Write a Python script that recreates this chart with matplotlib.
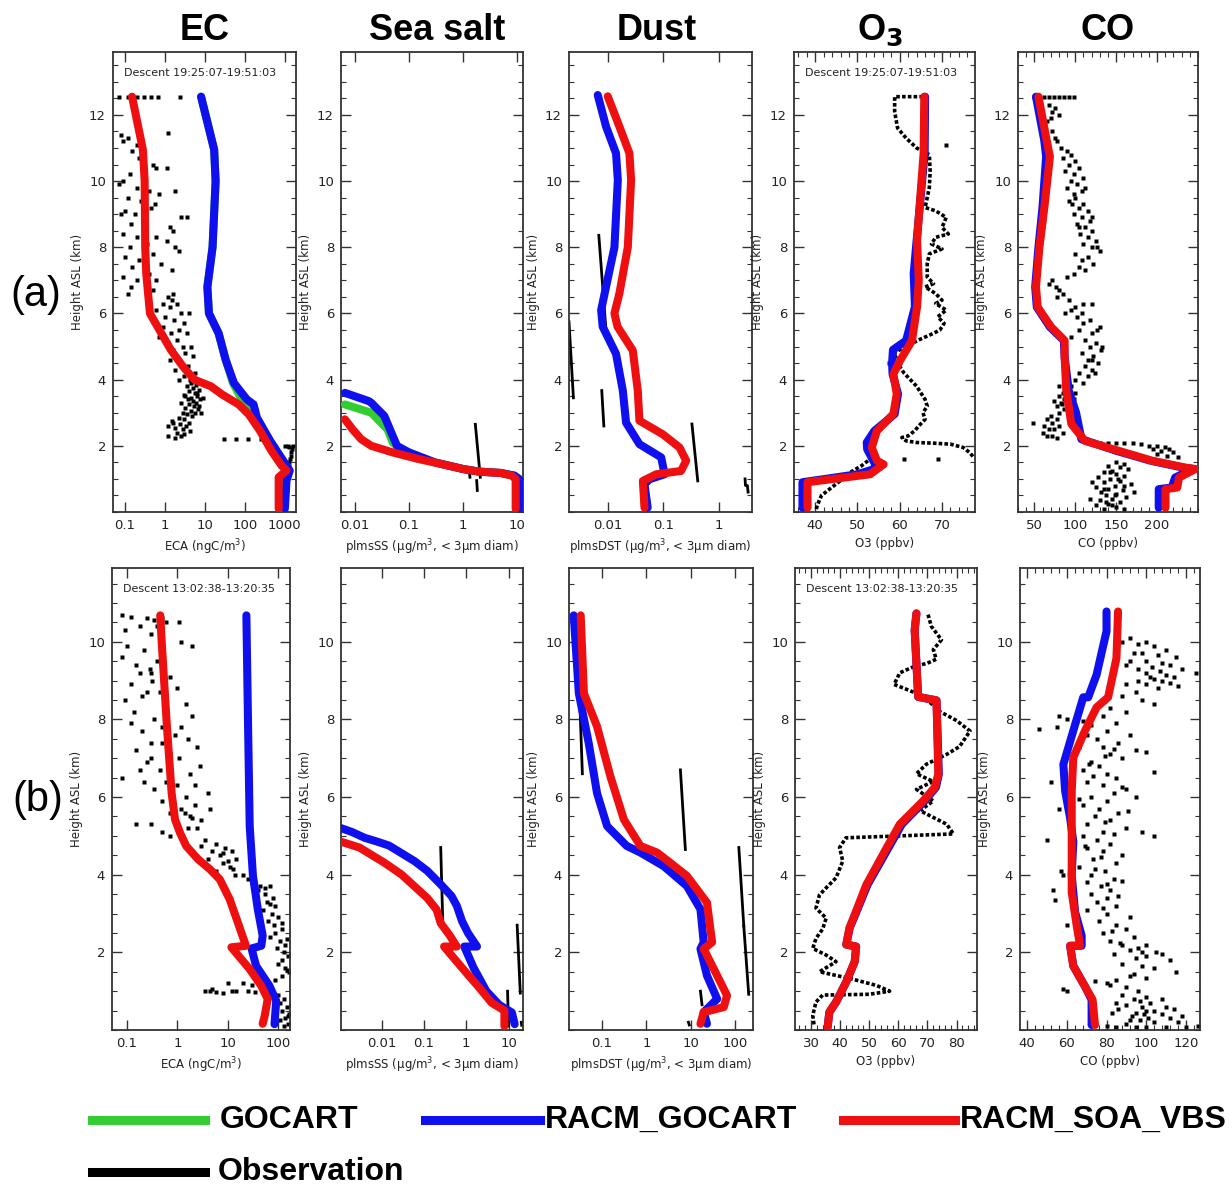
import matplotlib
matplotlib.use('Agg')
import matplotlib.pyplot as plt
from matplotlib.lines import Line2D
from matplotlib.ticker import MultipleLocator, NullLocator

# ---------------- DATA ----------------
# ---- Row (a) ----
# EC (ngC/m3)
ec_a_blue_h = [12.55, 10.95, 10.0, 8.0, 6.8, 6.0, 5.4, 4.6, 3.9, 3.4, 3.25, 2.85, 2.15, 1.25, 0.95, 0.1]
ec_a_blue_x = [8, 17, 18.5, 15.5, 11.5, 12.6, 22, 33, 53, 112, 165, 200, 430, 1320, 1100, 1000]
ec_a_green_h = [12.55, 10.95, 10.0, 8.0, 6.8, 6.0, 5.4, 4.6, 3.9, 3.5, 3.2, 2.85, 2.15, 1.25, 0.95, 0.1]
ec_a_green_x = [8, 17, 18.5, 15.5, 11.5, 12.6, 22, 33, 50, 75, 120, 180, 420, 1300, 1050, 950]
ec_a_red_h = [12.55, 10.95, 10.0, 8.0, 7.2, 6.0, 4.9, 4.4, 4.0, 3.8, 3.55, 3.25, 2.95, 2.45, 1.85, 1.4, 1.25, 1.05, 0.1]
ec_a_red_x = [0.15, 0.28, 0.31, 0.32, 0.34, 0.42, 1.4, 2.8, 5.4, 14, 27, 70, 125, 240, 460, 830, 1100, 700, 700]
ec_a_obs_h = [12.55, 12.55, 12.55, 12.55, 12.55, 12.55, 12.55,
              11.4, 11.3, 11.2, 11.1, 11.45, 10.9, 10.7, 10.5, 10.4, 10.4, 10.3, 10.2, 10.0, 9.9, 9.8, 9.7, 9.7,
              9.6, 9.5, 9.4, 9.3, 9.2, 9.1, 9.0, 9.0, 8.9, 8.9, 8.8, 8.7, 8.6, 8.5, 8.4, 8.3, 8.3, 8.2, 8.1,
              8.0, 8.0, 7.9, 7.8, 7.7, 7.6, 7.5, 7.4, 7.3, 7.2, 7.1, 7.0, 7.0, 6.9, 6.8, 6.7, 6.6, 6.5, 6.6,
              6.4, 6.3, 6.3, 6.2, 6.1, 6.0, 6.0, 5.9, 5.8, 5.7, 5.6, 5.5, 5.4, 5.4, 5.3, 5.2, 5.1, 5.0, 5.0,
              4.9, 4.8, 4.7, 4.6, 4.5, 4.4, 4.3, 4.2, 4.1, 4.0, 4.0,
              3.9, 3.85, 3.8, 3.75, 3.7, 3.65, 3.6, 3.55, 3.5, 3.45, 3.4, 3.4, 3.35, 3.3, 3.3, 3.25, 3.2, 3.15,
              3.1, 3.05, 3.0, 3.0, 2.95, 2.9, 2.85, 2.8, 2.75, 2.7, 2.65, 2.6, 2.55, 2.5, 2.45, 2.4, 2.35, 2.3,
              2.3, 2.25, 2.6, 2.7, 3.6, 3.5, 3.2, 3.0, 3.45,
              2.2, 2.2, 2.2, 2.2, 2.2,
              2.0, 1.95, 1.9, 1.8, 1.7, 1.6, 1.5, 1.4, 1.3, 1.2, 1.1, 1.0, 0.9, 0.85, 2.0, 2.0]
ec_a_obs_x = [0.07, 0.12, 0.2, 0.3, 0.45, 0.65, 2.4,
              0.08, 0.12, 0.09, 0.2, 1.2, 0.15, 0.22, 0.5, 0.6, 1.1, 0.3, 0.13, 0.09, 0.07, 0.2, 0.4, 1.8,
              0.7, 0.12, 0.25, 0.55, 0.45, 0.1, 0.18, 0.08, 2.5, 3.5, 0.3, 0.14, 1.3, 1.6, 0.09, 0.2, 0.6, 1.1, 0.35,
              0.13, 1.8, 2.3, 0.5, 0.1, 0.23, 0.8, 0.15, 1.5, 0.4, 0.09, 0.2, 0.6, 0.35, 0.14, 0.5, 0.12, 1.2, 1.6,
              1.5, 0.9, 2.0, 1.3, 0.6, 4.0, 2.5, 1.0, 1.7, 3.0, 0.9, 2.2, 1.4, 3.5, 0.7, 2.0, 1.2, 4.5, 2.8,
              1.6, 3.2, 5.0, 1.3, 2.5, 3.8, 1.8, 5.5, 3.0, 4.2, 2.2,
              4.5, 6.0, 3.5, 5.0, 7.0, 4.0, 5.5, 3.0, 6.5, 4.5, 3.8, 7.5, 5.0, 2.5, 6.0, 4.0, 5.2, 3.2,
              6.8, 4.4, 2.8, 5.8, 3.6, 4.8, 2.2, 3.0, 1.5, 4.0, 2.4, 3.3, 1.8, 2.8, 4.2, 2.0, 3.0, 1.2,
              2.5, 1.8, 1.2, 1.6, 6.5, 3.2, 7.0, 8.0, 9.0,
              30, 60, 120, 250, 400,
              1000, 1300, 1500, 1450, 1400, 1350, 1300, 1250, 1100, 1150, 1200, 1000, 900, 1000, 1200, 1600]

# Sea salt (ug/m3)
ss_a_green_h = [3.25, 3.0, 2.5, 2.1, 1.9, 1.8, 1.5, 1.3, 1.22, 1.18, 1.1, 1.0, 0.1]
ss_a_green_x = [0.0065, 0.02, 0.04, 0.05, 0.07, 0.1, 0.3, 1.0, 2.0, 5, 9, 10.5, 10.5]
ss_a_blue_h = [3.6, 3.45, 3.35, 3.3, 2.9, 2.3, 2.0, 1.8, 1.5, 1.3, 1.22, 1.18, 1.1, 1.0, 0.1]
ss_a_blue_x = [0.0065, 0.012, 0.018, 0.02, 0.035, 0.05, 0.06, 0.1, 0.3, 1.0, 2.0, 5, 9, 11, 11]
ss_a_red_h = [2.8, 2.5, 2.2, 2.0, 1.8, 1.6, 1.45, 1.3, 1.22, 1.18, 1.1, 1.0, 0.1]
ss_a_red_x = [0.0065, 0.009, 0.013, 0.02, 0.05, 0.15, 0.4, 1.0, 2.0, 5, 8, 9.5, 9.5]
ss_a_obs_segs = [([2.65, 1.05], [1.7, 2.1]), ([1.3, 1.05], [1.3, 1.35]), ([0.95, 0.65], [1.8, 1.85])]

# Dust (ug/m3)
du_a_blue_h = [12.6, 11.65, 10.84, 10.03, 8.0, 6.8, 6.1, 5.6, 4.78, 3.67, 2.7, 2.05, 1.65, 1.14, 0.99, 0.84, 0.13]
du_a_blue_x = [0.0066, 0.0093, 0.0141, 0.0152, 0.0132, 0.0093, 0.0076, 0.0081, 0.0141, 0.0187, 0.0214, 0.0373, 0.092, 0.106, 0.0566, 0.046, 0.0525]
du_a_red_h = [12.56, 11.65, 10.84, 10.03, 8.0, 6.6, 6.0, 5.6, 4.88, 3.67, 2.76, 2.35, 1.95, 1.55, 1.24, 1.14, 0.94, 0.13]
du_a_red_x = [0.01, 0.0162, 0.0246, 0.0264, 0.023, 0.0162, 0.0132, 0.015, 0.0283, 0.0348, 0.0373, 0.098, 0.197, 0.26, 0.21, 0.075, 0.043, 0.046]
du_a_obs_segs = [([8.36, 5.59], [0.0069, 0.0092]), ([5.75, 3.45], [0.0020, 0.0024]),
                 ([3.67, 2.6], [0.0078, 0.0085]), ([2.66, 0.94], [0.33, 0.42]),
                 ([1.0, 0.8, 0.8, 0.6], [3.0, 3.05, 3.3, 3.4])]

# O3 (ppbv)
o3_a_blue_h = [12.55, 10.84, 8.21, 7.2, 6.2, 5.18, 4.9, 4.5, 4.17, 3.57, 2.96, 2.45, 2.1, 1.9, 1.44, 1.3, 1.14, 0.9, 0.13]
o3_a_blue_x = [66.0, 65.9, 64.0, 63.3, 63.6, 61.5, 58.4, 58.2, 58.3, 59.6, 58.8, 54.0, 52.2, 52.3, 54.2, 54.0, 50.0, 37.0, 37.0]
o3_a_red_h = [12.55, 10.84, 8.21, 7.0, 6.2, 5.18, 4.58, 4.17, 3.57, 2.96, 2.45, 1.95, 1.55, 1.44, 1.14, 0.9, 0.13]
o3_a_red_x = [65.8, 65.65, 64.1, 64.5, 64.1, 62.9, 60.1, 58.5, 59.3, 58.5, 54.6, 53.4, 54.6, 56.2, 53.0, 38.2, 38.2]
o3_a_obs1_h = [12.55, 12.55, 12.1, 11.6, 11.3, 11.0, 10.85, 10.8, 10.3, 9.8, 9.5, 9.2, 9.1, 8.9, 8.6, 8.4, 8.3, 8.1,
               7.95, 7.8, 7.5, 7.1, 6.9, 6.8, 6.6, 6.4, 6.3, 6.1, 5.9, 5.7, 5.5, 5.4, 5.2, 5.0, 4.8, 4.6, 4.4,
               4.2, 4.0, 3.8, 3.6, 3.4, 3.2, 3.0, 2.8, 2.6, 2.45, 2.3, 2.25, 2.15, 2.1, 2.08, 2.05, 1.95, 1.8, 1.65]
o3_a_obs1_x = [65.5, 58.8, 58.8, 59.5, 61.5, 64.0, 66.0, 67.0, 67.2, 67.0, 66.5, 66.0, 68.5, 71.0, 70.0, 71.5, 68.5, 67.5,
               70.0, 67.0, 66.5, 66.5, 68.0, 66.0, 68.5, 70.0, 68.5, 71.0, 69.0, 70.5, 69.5, 68.0, 64.5, 61.5, 58.5, 59.5, 60.0,
               61.0, 62.5, 64.0, 65.0, 66.0, 66.5, 65.5, 66.0, 64.5, 63.5, 62.0, 60.5, 61.5, 64.0, 68.0, 72.0, 75.0, 76.5, 77.5]
o3_a_obs2_h = [1.55, 1.4, 1.25, 1.1, 0.95, 0.8, 0.65, 0.5, 0.35, 0.2, 0.05]
o3_a_obs2_x = [52.5, 51.0, 49.0, 47.0, 46.0, 44.5, 43.0, 41.5, 41.0, 40.5, 40.2]
o3_a_obs_pts_h = [11.1, 1.6, 1.6, 4.5]
o3_a_obs_pts_x = [71.0, 61.0, 69.0, 57.5]

# CO (ppbv)
co_a_blue_h = [12.55, 11.24, 10.74, 9.22, 8.0, 6.8, 6.19, 5.59, 5.18, 4.68, 3.67, 3.0, 2.2, 1.85, 1.55, 1.34, 1.3, 1.04, 0.74, 0.69, 0.13]
co_a_blue_x = [52, 62, 64.4, 60, 55, 51, 53, 69, 86, 87, 92, 101, 107.5, 150, 192, 232, 244, 222, 218, 202, 202]
co_a_red_h = [12.55, 11.24, 10.74, 9.22, 8.0, 6.8, 6.19, 5.59, 5.18, 4.68, 3.67, 2.66, 2.15, 1.85, 1.55, 1.34, 1.3, 1.04, 0.74, 0.69, 0.13]
co_a_red_x = [55, 65, 69, 62.3, 56.2, 52, 54.1, 70.5, 87, 87, 89, 95.2, 111.7, 152.8, 193.9, 235, 247, 226.7, 224.7, 210.3, 210.3]
co_a_obs_h = [12.55, 12.55, 12.55, 12.55, 12.55, 12.55, 12.55, 12.55, 12.55,
              12.3, 12.2, 12.1, 12.0, 11.9, 11.8, 11.6, 11.5, 11.3, 11.2, 11.0,
              10.9, 10.8, 10.7, 10.6, 10.5, 10.4, 10.3, 10.2, 10.1, 10.0, 9.9, 9.8, 9.7, 9.6,
              9.5, 9.4, 9.3, 9.2, 9.1, 9.0, 8.9, 8.8, 8.7, 8.6, 8.5, 8.4, 8.3, 8.2, 8.1, 8.0, 7.9, 7.8, 7.7,
              7.6, 7.5, 7.4, 7.3, 7.2, 7.1, 9.3, 8.9, 8.6, 9.8, 8.0,
              7.0, 6.9, 6.8, 6.7, 6.6, 6.5, 6.4, 6.3, 6.3, 6.2, 6.1, 6.0, 6.0,
              5.9, 5.8, 5.7, 5.6, 5.5, 5.4, 5.3, 5.2, 5.1, 5.0, 4.9, 4.8, 4.7, 4.6, 4.5, 4.4, 4.3, 4.2, 4.1, 4.0,
              3.9, 3.8, 5.5, 5.0, 4.6, 4.2,
              3.8, 3.7, 3.6, 3.5, 3.5, 3.4, 3.4, 3.3, 3.3, 3.2, 3.2, 3.1, 3.0, 3.0, 3.35, 3.25, 3.6,
              2.9, 2.8, 2.8, 2.7, 2.7, 2.6, 2.6, 2.5, 2.5, 2.4, 2.4, 2.3, 2.3, 2.25,
              2.1, 2.1, 2.1, 2.1, 2.1, 2.1, 2.05, 2.0, 2.0, 1.95, 1.9, 1.9, 1.85, 1.8, 1.75, 1.7, 1.65, 1.6,
              1.5, 1.45, 1.4, 1.35, 1.3, 1.25, 1.2, 1.15, 1.1, 1.05, 1.0, 0.95, 0.9, 0.85, 0.8, 0.75, 0.7,
              0.65, 0.6, 0.55, 0.5, 0.45, 0.4, 0.35, 0.3, 0.25, 0.2, 0.15, 0.1, 0.1, 0.6, 0.4, 0.9,
              1.2, 0.8, 0.5, 0.3, 1.0, 0.7, 0.2]
co_a_obs_x = [50, 56, 62, 68, 74, 80, 86, 92, 98,
              68, 75, 72, 80, 70, 66, 62, 72, 75, 78, 82,
              90, 95, 85, 100, 92, 105, 88, 98, 110, 95, 102, 90, 108, 98,
              100, 92, 110, 104, 115, 98, 108, 118, 102, 112, 120, 106, 115, 125, 110, 120, 130, 100, 115,
              108, 122, 104, 112, 98, 90, 96, 120, 105, 112, 126,
              72, 68, 76, 80, 85, 78, 92, 110, 120, 100, 95, 108, 88,
              102, 118, 110, 130, 105, 120, 95, 112, 125, 118, 132, 108, 122, 115, 128, 112, 120, 105, 116, 100,
              110, 95, 126, 133, 120, 124,
              80, 88, 85, 92, 80, 86, 98, 82, 90, 78, 95, 86, 92, 80, 74, 84, 100,
              70, 65, 78, 48, 72, 62, 80, 68, 74, 60, 85, 66, 72, 78,
              120, 130, 140, 150, 160, 170, 180, 190, 200, 210, 195, 215, 205, 220, 200, 212, 225, 190,
              150, 160, 140, 155, 165, 145, 135, 150, 160, 128, 142, 155, 135, 168, 148, 125, 140,
              158, 132, 150, 138, 162, 145, 130, 155, 140, 125, 150, 135, 160, 172, 118, 120,
              142, 160, 148, 138, 152, 135, 145]

# ---- Row (b) ----
ec_b_blue_h = [10.68, 7.82, 5.25, 3.97, 3.11, 2.43, 2.17, 2.1, 1.65, 1.14, 0.75, 0.15]
ec_b_blue_x = [23.7, 25.6, 27.6, 32, 40, 50, 47, 30, 37, 68, 93, 86]
ec_b_red_h = [10.68, 9.96, 7.82, 6.1, 5.42, 5.08, 4.74, 4.4, 4.14, 3.88, 3.37, 2.77, 2.17, 2.13, 1.57, 1.14, 0.8, 0.37, 0.16]
ec_b_red_x = [0.457, 0.49, 0.62, 0.77, 0.9, 1.13, 1.5, 2.58, 4.45, 7.0, 11.0, 16.0, 23.2, 11.9, 27.5, 46.7, 63, 55, 50]
ec_b_obs_h = [10.7, 10.65, 10.6, 10.55, 10.5, 10.5, 10.4, 10.3, 10.2, 10.1, 10.0, 9.9, 9.9, 9.8, 9.6, 9.5, 9.4,
              9.3, 9.2, 9.1, 9.0, 8.9, 8.8, 8.7, 8.6, 8.5, 8.4, 8.3, 8.2, 8.1, 8.0, 10.6, 10.4, 9.2, 8.7,
              7.9, 7.8, 7.8, 7.7, 7.6, 7.5, 7.4, 7.3, 7.2, 7.1, 7.0, 6.9, 6.8, 6.7, 6.6, 6.5, 6.4, 6.3, 6.2,
              6.1, 6.0, 6.0, 7.4, 7.0, 6.7, 6.4, 6.3,
              5.9, 5.8, 5.7, 5.7, 5.6, 5.5, 5.4, 5.3, 5.3, 5.2, 5.1, 5.1, 5.0, 4.9, 5.6, 5.45, 5.2,
              4.8, 4.7, 4.6, 4.6, 4.5, 4.4, 4.4, 4.3, 4.2, 4.1, 4.0, 4.0, 4.75, 4.55, 4.35, 4.15,
              3.9, 3.8, 3.7, 3.7, 3.6, 3.5, 3.4, 3.3, 3.2, 3.1, 3.0, 2.9, 2.8, 2.7, 2.6, 2.5, 2.4, 2.3,
              2.2, 2.1, 2.0, 1.9, 1.8, 1.7, 1.6, 1.5, 1.4, 1.3, 3.65, 3.25, 2.75, 2.35, 1.95, 1.55,
              1.2, 1.2, 1.15, 1.05, 1.0, 1.0, 0.98, 0.95, 1.0, 1.0, 1.0, 0.98, 1.0,
              0.9, 0.8, 0.7, 0.6, 0.5, 0.4, 0.3, 0.2, 0.15, 0.1, 0.1, 0.25, 0.45, 0.35, 0.65, 0.12]
ec_b_obs_x = [0.08, 0.12, 0.25, 0.35, 0.6, 1.1, 0.18, 0.09, 0.3, 0.5, 1.2, 2.0, 0.1, 0.22, 0.08, 0.4, 0.15,
              0.28, 0.18, 0.7, 0.32, 0.12, 1.0, 0.45, 0.2, 0.09, 1.5, 0.6, 0.14, 2.0, 0.35, 0.5, 0.4, 0.3, 0.25,
              0.12, 1.2, 0.5, 0.2, 0.9, 1.6, 0.3, 2.5, 0.15, 0.7, 1.1, 0.25, 2.8, 0.45, 1.8, 0.08, 0.6, 1.0, 0.35,
              4.0, 0.8, 1.5, 0.5, 0.3, 0.18, 0.22, 2.2,
              0.5, 2.2, 4.5, 1.2, 0.7, 1.8, 3.0, 0.3, 0.15, 2.5, 1.1, 0.5, 0.7, 3.5, 1.4, 2.0, 1.6,
              6, 9, 5, 12, 7, 4, 15, 8, 11, 6, 14, 20, 3, 8, 10, 13,
              25, 30, 45, 70, 40, 55, 80, 60, 90, 50, 75, 100, 65, 85, 120, 90, 70, 110,
              140, 95, 130, 160, 120, 100, 140, 170, 120, 90, 55, 70, 120, 150, 180, 150,
              10, 20, 30, 5, 3.5, 4.5, 6, 8, 12, 15, 25, 35, 50,
              100, 130, 110, 150, 120, 170, 140, 190, 160, 130, 200, 110, 90, 160, 180, 210]

ss_b_blue_h = [5.2, 5.1, 4.95, 4.85, 4.75, 4.55, 4.35, 4.1, 3.75, 3.45, 3.2, 2.8, 2.5, 2.15, 2.15, 1.6, 1.0, 0.65, 0.45, 0.15]
ss_b_blue_x = [0.0011, 0.002, 0.004, 0.008, 0.015, 0.03, 0.06, 0.12, 0.25, 0.45, 0.6, 0.8, 1.1, 1.8, 0.9, 1.5, 3, 6, 12, 14]
ss_b_red_h = [4.85, 4.7, 4.5, 4.3, 4.0, 3.7, 3.4, 3.1, 2.75, 2.45, 2.15, 2.15, 1.6, 1.1, 0.7, 0.5, 0.1]
ss_b_red_x = [0.0011, 0.003, 0.006, 0.012, 0.03, 0.06, 0.12, 0.2, 0.25, 0.4, 0.6, 0.3, 0.8, 2.0, 4.0, 8.0, 8.0]
ss_b_obs_segs = [([4.7, 2.75], [0.25, 0.28]), ([1.0, 0.1], [9.5, 10.0]), ([2.7, 0.95], [16.0, 19.0]), ([0.2, 0.12], [20.0, 20.5])]

du_b_blue_h = [10.68, 8.67, 7.39, 6.1, 5.25, 4.74, 4.57, 4.22, 3.71, 3.11, 2.26, 2.09, 1.4, 0.8, 0.46, 0.16]
du_b_blue_x = [0.023, 0.03, 0.05, 0.077, 0.13, 0.36, 0.73, 2.44, 8.1, 16.4, 19.4, 16.4, 23, 39, 19.4, 23]
du_b_red_h = [10.68, 8.67, 7.82, 6.53, 5.42, 4.74, 4.57, 4.31, 3.97, 3.28, 2.26, 2.09, 1.4, 0.89, 0.59, 0.46, 0.16]
du_b_red_x = [0.033, 0.039, 0.077, 0.154, 0.31, 0.73, 1.73, 3.4, 8.1, 23, 30, 19.4, 39, 65, 55, 19.4, 16.4]
du_b_obs_segs = [([8.67, 6.6], [0.031, 0.036]), ([6.7, 4.65], [5.8, 7.5]), ([4.7, 2.68], [120, 155]),
                 ([2.68, 0.92], [155, 200]), ([1.0, 0.65], [16.4, 17.8]), ([0.2, 0.13], [8.8, 9.2])]

o3_b_blue_h = [10.73, 10.3, 8.58, 8.49, 6.59, 6.25, 5.9, 5.3, 4.52, 3.74, 2.97, 2.63, 2.2, 2.15, 1.76, 1.24, 0.72, 0.46, 0.07]
o3_b_blue_x = [66.2, 65.6, 66.8, 73.1, 73.9, 72.9, 69.0, 61.2, 55.3, 49.4, 45.2, 43.3, 42.1, 45.5, 45.0, 42.1, 38.6, 36.3, 35.7]
o3_b_red_h = [10.73, 10.3, 8.58, 8.49, 6.59, 6.25, 5.9, 5.3, 4.52, 3.74, 2.97, 2.63, 2.2, 2.15, 1.76, 1.24, 0.72, 0.46, 0.07]
o3_b_red_x = [66.2, 65.6, 66.8, 73.1, 73.7, 72.5, 68.5, 60.5, 54.7, 49.0, 45.0, 43.2, 42.1, 45.5, 45.0, 42.1, 38.6, 36.3, 35.7]
o3_b_obs_h = [10.7, 10.4, 10.05, 9.8, 9.55, 9.45, 9.35, 9.2, 8.9, 8.8, 8.6, 8.2, 7.97, 7.7, 7.3, 7.1, 6.85, 6.6,
              6.4, 6.2, 5.9, 5.65, 5.3, 5.05, 4.95, 4.7, 4.35, 3.92, 3.66, 3.48, 3.14, 2.88, 2.6, 2.36, 2.1,
              1.93, 1.76, 1.5, 1.33, 1.15, 1.0, 0.92, 0.9, 0.72, 0.38, 0.1]
o3_b_obs_x = [70.2, 71.3, 74.8, 72.0, 73.0, 70.0, 65.0, 60.5, 58.5, 62.0, 68.5, 74.3, 80.0, 84.6, 81.0, 76.6, 69.7, 66.2,
              72.0, 66.2, 72.0, 67.4, 76.6, 78.9, 42.0, 39.8, 40.9, 38.6, 35.2, 32.9, 31.7, 35.2, 34.0, 31.7, 30.6,
              35.2, 38.6, 32.9, 43.2, 52.4, 57.0, 50.0, 34.0, 31.7, 30.6, 31.1]

co_b_blue_h = [10.78, 10.27, 9.15, 8.57, 8.57, 7.71, 6.84, 6.15, 5.46, 4.85, 3.99, 3.04, 2.43, 2.17, 2.17, 1.65, 1.12, 0.78, 0.13]
co_b_blue_x = [80, 80, 75, 70.8, 68.3, 63.3, 58.3, 59.2, 61.7, 63.3, 62.5, 64.2, 67.5, 67.5, 61.7, 63.3, 69.2, 72.5, 72.5]
co_b_red_h = [10.78, 9.58, 8.57, 8.31, 7.71, 7.02, 6.15, 4.85, 3.55, 2.69, 2.17, 2.17, 1.65, 1.12, 0.78, 0.13]
co_b_red_x = [85.8, 85.0, 80.8, 75.0, 69.2, 63.3, 62.5, 62.5, 62.5, 65.0, 66.7, 61.7, 63.3, 69.2, 73.0, 74.2]
co_b_obs_h = [10.1, 10.0, 10.0, 9.95, 9.9, 9.8, 9.8, 9.7, 9.65, 9.6, 9.5, 9.5, 9.45, 9.4, 9.35, 9.3, 9.3, 9.25,
              9.2, 9.2, 9.15, 9.1, 9.05, 9.0, 9.0, 8.95, 8.9, 8.9, 8.8, 8.7, 8.6, 8.5, 8.4, 9.7, 9.4, 9.1, 8.85,
              8.3, 8.2, 8.1, 8.1, 8.0, 7.95, 7.9, 7.85, 7.8, 7.75, 7.7, 7.6, 7.5, 7.4, 7.3, 7.25, 7.2, 7.15,
              7.1, 7.0, 6.9, 7.6, 7.3, 7.05,
              6.8, 6.7, 6.65, 6.6, 6.5, 6.4, 6.4, 6.3, 6.2, 6.1, 6.0, 6.0, 5.9, 5.8, 5.7, 5.7, 5.6, 5.5, 5.4,
              5.3, 5.2, 5.1, 5.1, 5.0, 5.0, 4.9, 4.9, 6.55, 6.25, 5.95, 5.65, 5.35, 5.05, 6.85,
              4.8, 4.7, 4.6, 4.5, 4.4, 4.3, 4.2, 4.1, 4.1, 4.0, 4.0, 3.9, 3.85, 3.8, 3.7, 3.6, 3.6, 3.5, 3.4,
              3.35, 3.3, 3.2, 3.1, 3.0, 4.75, 4.45, 4.15, 3.75, 3.45, 3.15,
              2.9, 2.8, 2.7, 2.7, 2.6, 2.5, 2.4, 2.3, 2.2, 2.2, 2.1, 2.05, 2.0, 2.0, 1.95, 1.9, 1.85, 1.8,
              1.7, 1.65, 1.6, 1.5, 1.4, 1.35, 1.3, 1.25, 1.2, 1.1, 1.05, 1.0, 1.0, 2.55, 2.25, 1.95, 1.45, 1.15,
              0.9, 0.85, 0.8, 0.8, 0.75, 0.7, 0.65, 0.6, 0.6, 0.55, 0.5, 0.5, 0.45, 0.4, 0.4, 0.35, 0.3, 0.3,
              0.25, 0.2, 0.15, 0.1, 0.08, 0.08, 0.08, 0.08, 0.08, 0.1, 0.2, 0.55, 0.35, 0.7, 0.45, 0.25]
co_b_obs_x = [92, 88, 100, 96, 104, 110, 85, 98, 106, 115, 100, 92, 108, 112, 103, 96, 118, 107,
              100, 125, 110, 114, 104, 108, 96, 112, 100, 90, 106, 95, 88, 98, 104, 94, 90, 102, 116,
              82, 90, 78, 56, 60, 68, 85, 72, 55, 46, 80, 92, 75, 86, 78, 84, 95, 100,
              82, 88, 72, 70, 66, 79,
              76, 68, 104, 80, 85, 70, 52, 78, 90, 84, 72, 95, 80, 68, 76, 56, 86, 74, 82,
              70, 90, 78, 98, 104, 68, 50, 75, 73, 88, 66, 91, 79, 84, 71,
              82, 70, 78, 88, 73, 85, 66, 79, 57, 58, 72, 84, 88, 70, 77, 53, 82, 72, 80,
              54, 75, 85, 70, 80, 69, 77, 74, 80, 86, 78,
              92, 76, 60, 85, 90, 78, 94, 82, 100, 88, 96, 92, 105, 98, 84, 100, 95, 112,
              88, 98, 104, 115, 92, 100, 85, 74, 80, 90, 58, 60, 96, 83, 87, 108, 94, 82,
              88, 100, 94, 108, 97, 102, 90, 98, 110, 86, 100, 104, 95, 108, 99, 93, 112, 101,
              97, 104, 90, 80, 85, 95, 100, 110, 120, 126, 116, 114, 118, 85, 83, 92]

# ---------------- FIGURE ----------------
W, H = 1229, 1185
fig = plt.figure(figsize=(W / 100, H / 100), dpi=100)
TICKFONT = 'DejaVu Sans'
C_GREEN, C_BLUE, C_RED = '#33cc33', '#1010ee', '#ee1010'
LW = 5.8


def add_ax(l, r, t, b):
    return fig.add_axes([l / W, 1 - b / H, (r - l) / W, (b - t) / H])


def style(ax, xlim, ylim, xlog, xticks, xlabels, yticks, xminor=None):
    if xlog:
        ax.set_xscale('log')
    ax.set_xlim(*xlim)
    ax.set_ylim(*ylim)
    ax.set_xticks(xticks, xlabels)
    ax.xaxis.set_minor_locator(MultipleLocator(xminor) if xminor else NullLocator())
    ax.set_yticks(yticks, [str(v) for v in yticks])
    ax.yaxis.set_minor_locator(MultipleLocator(0.5))
    ax.tick_params(which='both', direction='in', top=True, right=True, color='#333333')
    ax.tick_params(which='major', length=7, width=1.0, labelsize=9.5, pad=5)
    ax.tick_params(which='minor', length=3.5, width=0.8)
    for lab in ax.get_xticklabels() + ax.get_yticklabels():
        lab.set_fontfamily(TICKFONT)
        lab.set_color('#222222')
    for s in ax.spines.values():
        s.set_linewidth(1.3)
        s.set_color('#333333')
    ax.set_ylabel('Height ASL (km)', fontsize=8.5, color='#222222', labelpad=4)


def scatter(ax, h, x):
    ax.plot(x, h, ls='none', marker='s', ms=2.9, mec='none', mfc='black', zorder=2)


def segs(ax, lst):
    for hh, xx in lst:
        ax.plot(xx, hh, color='black', lw=2.0, zorder=2)


def model(ax, h, x, color):
    ax.plot(x, h, color=color, lw=LW, solid_capstyle='round', solid_joinstyle='round', zorder=3)


def dotted(ax, h, x):
    ax.plot(x, h, color='black', lw=2.6, ls=(0, (1.0, 0.6)), zorder=2)


ya = (0, 13.9)
yb = (0, 11.9)
yta = [2, 4, 6, 8, 10, 12]
ytb = [2, 4, 6, 8, 10]

# Row a
ax = add_ax(113, 296, 52, 512)
scatter(ax, ec_a_obs_h, ec_a_obs_x)
model(ax, ec_a_green_h, ec_a_green_x, C_GREEN)
model(ax, ec_a_blue_h, ec_a_blue_x, C_BLUE)
model(ax, ec_a_red_h, ec_a_red_x, C_RED)
style(ax, (0.05, 1900), ya, True, [0.1, 1, 10, 100, 1000], ['0.1', '1', '10', '100', '1000'], yta)
ax.set_xlabel('ECA (ngC/m$^3$)', fontsize=8.5, color='#222222')
ax.text(0.06, 0.955, 'Descent 19:25:07-19:51:03', transform=ax.transAxes, fontsize=8, color='#222222', va='center')

ax = add_ax(341, 523, 52, 512)
segs(ax, ss_a_obs_segs)
model(ax, ss_a_green_h, ss_a_green_x, C_GREEN)
model(ax, ss_a_blue_h, ss_a_blue_x, C_BLUE)
model(ax, ss_a_red_h, ss_a_red_x, C_RED)
style(ax, (0.0055, 13), ya, True, [0.01, 0.1, 1, 10], ['0.01', '0.1', '1', '10'], yta)
ax.set_xlabel('plmsSS (μg/m$^3$, < 3μm diam)', fontsize=8.5, color='#222222')

ax = add_ax(569, 752, 52, 512)
segs(ax, du_a_obs_segs)
model(ax, du_a_blue_h, du_a_blue_x, C_BLUE)
model(ax, du_a_red_h, du_a_red_x, C_RED)
style(ax, (0.002, 4), ya, True, [0.01, 0.1, 1], ['0.01', '0.1', '1'], yta)
ax.set_xlabel('plmsDST (μg/m$^3$, < 3μm diam)', fontsize=8.5, color='#222222')

ax = add_ax(794, 975, 52, 512)
dotted(ax, o3_a_obs1_h, o3_a_obs1_x)
dotted(ax, o3_a_obs2_h, o3_a_obs2_x)
scatter(ax, o3_a_obs_pts_h, o3_a_obs_pts_x)
model(ax, o3_a_blue_h, o3_a_blue_x, C_BLUE)
model(ax, o3_a_red_h, o3_a_red_x, C_RED)
style(ax, (35, 77.8), ya, False, [40, 50, 60, 70], ['40', '50', '60', '70'], yta, xminor=2)
ax.set_xlabel('O3 (ppbv)', fontsize=8.5, color='#222222')
ax.text(0.06, 0.955, 'Descent 19:25:07-19:51:03', transform=ax.transAxes, fontsize=8, color='#222222', va='center')

ax = add_ax(1018, 1198, 52, 512)
scatter(ax, co_a_obs_h, co_a_obs_x)
model(ax, co_a_blue_h, co_a_blue_x, C_BLUE)
model(ax, co_a_red_h, co_a_red_x, C_RED)
style(ax, (30, 250), ya, False, [50, 100, 150, 200], ['50', '100', '150', '200'], yta, xminor=10)
ax.set_xlabel('CO (ppbv)', fontsize=8.5, color='#222222')

# Row b
ax = add_ax(112, 290, 568, 1030)
scatter(ax, ec_b_obs_h, ec_b_obs_x)
model(ax, ec_b_blue_h, ec_b_blue_x, C_BLUE)
model(ax, ec_b_red_h, ec_b_red_x, C_RED)
style(ax, (0.05, 175), yb, True, [0.1, 1, 10, 100], ['0.1', '1', '10', '100'], ytb)
ax.set_xlabel('ECA (ngC/m$^3$)', fontsize=8.5, color='#222222')
ax.text(0.06, 0.955, 'Descent 13:02:38-13:20:35', transform=ax.transAxes, fontsize=8, color='#222222', va='center')

ax = add_ax(341, 523, 568, 1030)
segs(ax, ss_b_obs_segs)
model(ax, ss_b_blue_h, ss_b_blue_x, C_BLUE)
model(ax, ss_b_red_h, ss_b_red_x, C_RED)
style(ax, (0.0011, 22), yb, True, [0.01, 0.1, 1, 10], ['0.01', '0.1', '1', '10'], ytb)
ax.set_xlabel('plmsSS (μg/m$^3$, < 3μm diam)', fontsize=8.5, color='#222222')

ax = add_ax(569, 753, 568, 1030)
segs(ax, du_b_obs_segs)
model(ax, du_b_blue_h, du_b_blue_x, C_BLUE)
model(ax, du_b_red_h, du_b_red_x, C_RED)
style(ax, (0.018, 250), yb, True, [0.1, 1, 10, 100], ['0.1', '1', '10', '100'], ytb)
ax.set_xlabel('plmsDST (μg/m$^3$, < 3μm diam)', fontsize=8.5, color='#222222')

ax = add_ax(795, 977, 568, 1030)
dotted(ax, o3_b_obs_h, o3_b_obs_x)
model(ax, o3_b_blue_h, o3_b_blue_x, C_BLUE)
model(ax, o3_b_red_h, o3_b_red_x, C_RED)
style(ax, (24.5, 87), yb, False, [30, 40, 50, 60, 70, 80], ['30', '40', '50', '60', '70', '80'], ytb, xminor=2)
ax.set_xlabel('O3 (ppbv)', fontsize=8.5, color='#222222')
ax.text(0.06, 0.955, 'Descent 13:02:38-13:20:35', transform=ax.transAxes, fontsize=8, color='#222222', va='center')

ax = add_ax(1020, 1200, 568, 1030)
scatter(ax, co_b_obs_h, co_b_obs_x)
model(ax, co_b_blue_h, co_b_blue_x, C_BLUE)
model(ax, co_b_red_h, co_b_red_x, C_RED)
style(ax, (36.5, 127), yb, False, [40, 60, 80, 100, 120], ['40', '60', '80', '100', '120'], ytb, xminor=4)
ax.set_xlabel('CO (ppbv)', fontsize=8.5, color='#222222')

# Column titles
titles = ['EC', 'Sea salt', 'Dust', r'O$_{\mathbf{3}}$', 'CO']
title_x = [205, 437, 657, 880, 1108]
for t, x in zip(titles, title_x):
    fig.text(x / W, 1 - 30 / H, t, ha='center', va='center', fontsize=26, fontweight='bold',
             family='Liberation Sans')

fig.text(36 / W, 1 - 295 / H, '(a)', ha='center', va='center', fontsize=30, family='Liberation Sans')
fig.text(38 / W, 1 - 800 / H, '(b)', ha='center', va='center', fontsize=30, family='Liberation Sans')

# Legend
legend_items = [('GOCART', C_GREEN, 92, 205, 220, 1120),
                ('RACM_GOCART', C_BLUE, 425, 540, 545, 1120),
                ('RACM_SOA_VBS', C_RED, 843, 955, 960, 1120),
                ('Observation', 'black', 92, 205, 218, 1172)]
for lab, col, x0, x1, xt, y in legend_items:
    fig.add_artist(Line2D([x0 / W, x1 / W], [1 - y / H, 1 - y / H], color=col, lw=6.5, transform=fig.transFigure))
    fig.text(xt / W, 1 - y / H, lab, ha='left', va='center', fontsize=23, fontweight='bold',
             family='Liberation Sans')

fig.savefig('out.png', dpi=100)
